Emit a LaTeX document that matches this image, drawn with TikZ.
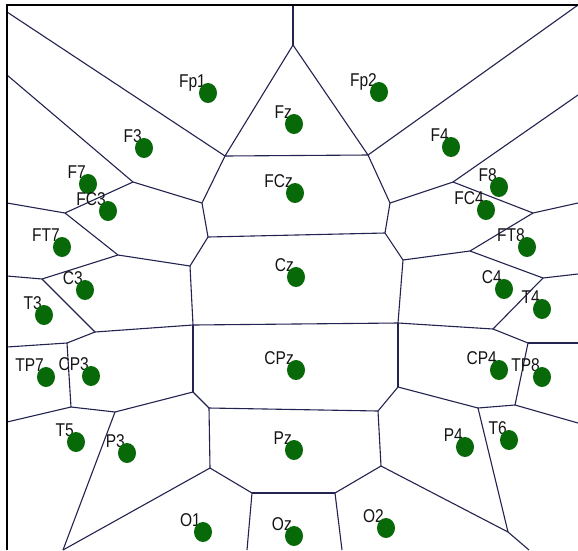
\documentclass[tikz,border=0pt]{standalone}
\usepackage{fontspec}
\setmainfont{Liberation Sans}
\usetikzlibrary{shapes.geometric}
\definecolor{edgecol}{RGB}{35,35,80}
\definecolor{dotcol}{RGB}{8,105,8}
\definecolor{txtcol}{RGB}{20,20,20}
\newcommand{\electrode}[4]{%
  \node[lbl] (#1l) at (#2-2,#3-6) {\scalebox{0.84}[1]{#4}};%
  \node[elec] (#1) at (#2,#3) {};}
\begin{document}
\begin{tikzpicture}[x=1pt,y=-1pt,
  edge/.style={draw=edgecol,line width=1.1pt},
  frame/.style={draw=black,line width=2.2pt},
  lbl/.style={anchor=base east,inner sep=0pt,text=txtcol,font=\fontsize{18.5}{18.5}\selectfont},
  elec/.style={ellipse,fill=dotcol,draw=none,inner sep=0pt,minimum width=18pt,minimum height=20pt}]
\useasboundingbox (0,0) rectangle (578,550);
\fill[white] (0,0) rectangle (578,550);
% Voronoi vertices
\coordinate (vA) at (225,156);
\coordinate (vApex) at (293,45);
\coordinate (vC) at (368,155);
\coordinate (vD) at (453,182);
\coordinate (vE) at (390,203);
\coordinate (vF) at (533,213);
\coordinate (vG) at (385,233);
\coordinate (vH) at (403,260);
\coordinate (vI) at (470,251);
\coordinate (vJ) at (543,278);
\coordinate (vK) at (398,323);
\coordinate (vL) at (493,329);
\coordinate (vM) at (528,343);
\coordinate (vN) at (515,405);
\coordinate (vO) at (398,387);
\coordinate (vP) at (478,408);
\coordinate (vQ) at (378,411);
\coordinate (vR) at (508,532);
\coordinate (vS) at (381,466);
\coordinate (vT) at (335,493);
\coordinate (vU) at (210,468);
\coordinate (vV) at (252,493);
\coordinate (vW) at (193,392);
\coordinate (vX) at (209,408);
\coordinate (vY) at (115,412);
\coordinate (vZ) at (71,407);
\coordinate (vCC) at (67,343);
\coordinate (vAA) at (95,332);
\coordinate (vBB) at (193,325);
\coordinate (vGG) at (190,266);
\coordinate (vFF) at (208,237);
\coordinate (vEE) at (202,203);
\coordinate (vHH) at (118,255);
\coordinate (vII) at (42,279);
\coordinate (vDD) at (65,213);
\coordinate (vB) at (133,182);
% border ends
\coordinate (bTL) at (7,12);
\coordinate (bL1) at (7,75);
\coordinate (bL2) at (7,203);
\coordinate (bL3) at (7,276);
\coordinate (bL4) at (7,347);
\coordinate (bL5) at (7,422);
\coordinate (bB1) at (63,550);
\coordinate (bB2) at (247,550);
\coordinate (bB3) at (342,550);
\coordinate (bB4) at (529,550);
\coordinate (bR1) at (578,423);
\coordinate (bR2) at (578,343);
\coordinate (bR3) at (578,274);
\coordinate (bR4) at (578,203);
\coordinate (bR5) at (578,95);
\coordinate (bTR) at (578,5);
\coordinate (bT) at (293,5);
\coordinate (fBL) at (7,550);
\coordinate (fTL) at (7,5);
% edges
\draw[edge] (bTL) -- (vA);
\draw[edge] (bL1) -- (vB);
\draw[edge] (bL2) -- (vDD);
\draw[edge] (bL3) -- (vII);
\draw[edge] (bL4) -- (vCC);
\draw[edge] (bL5) -- (vZ);
\draw[edge] (bB1) -- (vY);
\draw[edge] (bB1) -- (vU);
\draw[edge] (bB2) -- (vV);
\draw[edge] (bB3) -- (vT);
\draw[edge] (bB4) -- (vR);
\draw[edge] (bR1) -- (vN);
\draw[edge] (bR2) -- (vM);
\draw[edge] (bR3) -- (vJ);
\draw[edge] (bR4) -- (vF);
\draw[edge] (bR5) -- (vD);
\draw[edge] (bTR) -- (vC);
\draw[edge] (bT) -- (vApex);
\draw[edge] (vA) -- (vApex) -- (vC) -- (vA);
\draw[edge] (vA) -- (vEE);
\draw[edge] (vC) -- (vE);
\draw[edge] (vE) -- (vD);
\draw[edge] (vE) -- (vG);
\draw[edge] (vD) -- (vF);
\draw[edge] (vF) -- (vI);
\draw[edge] (vI) -- (vH);
\draw[edge] (vI) -- (vJ);
\draw[edge] (vJ) -- (vL);
\draw[edge] (vL) -- (vK);
\draw[edge] (vL) -- (vM);
\draw[edge] (vM) -- (vN);
\draw[edge] (vN) -- (vP);
\draw[edge] (vP) -- (vO);
\draw[edge] (vP) -- (vR);
\draw[edge] (vO) -- (vK);
\draw[edge] (vO) -- (vQ);
\draw[edge] (vQ) -- (vX);
\draw[edge] (vQ) -- (vS);
\draw[edge] (vS) -- (vT);
\draw[edge] (vS) -- (vR);
\draw[edge] (vT) -- (vV);
\draw[edge] (vV) -- (vU);
\draw[edge] (vU) -- (vX);
\draw[edge] (vX) -- (vW);
\draw[edge] (vW) -- (vY);
\draw[edge] (vW) -- (vBB);
\draw[edge] (vY) -- (vZ);
\draw[edge] (vZ) -- (vCC);
\draw[edge] (vCC) -- (vAA);
\draw[edge] (vAA) -- (vBB);
\draw[edge] (vAA) -- (vII);
\draw[edge] (vII) -- (vHH);
\draw[edge] (vHH) -- (vDD);
\draw[edge] (vHH) -- (vGG);
\draw[edge] (vGG) -- (vFF);
\draw[edge] (vGG) -- (vBB);
\draw[edge] (vFF) -- (vEE);
\draw[edge] (vFF) -- (vG);
\draw[edge] (vG) -- (vH);
\draw[edge] (vH) -- (vK);
\draw[edge] (vK) -- (vBB);
\draw[edge] (vEE) -- (vB);
\draw[edge] (vB) -- (vDD);
% frame
\draw[frame] (fBL) -- (fTL) -- (bTR);
% electrodes
\electrode{Fp1}{208}{93}{Fp1}
\electrode{Fp2}{379}{92}{Fp2}
\electrode{Fz}{294}{124}{Fz}
\electrode{F3}{144}{148}{F3}
\electrode{F4}{451}{147}{F4}
\electrode{F7}{88}{184}{F7}
\electrode{FC3}{108}{211}{FC3}
\electrode{FT7}{62}{247}{FT7}
\electrode{FCz}{295}{193}{FCz}
\electrode{F8}{499}{187}{F8}
\electrode{FC4}{486}{210}{FC4}
\electrode{FT8}{527}{247}{FT8}
\electrode{Cz}{296}{277}{Cz}
\electrode{C3}{85}{290}{C3}
\electrode{T3}{44}{315}{T3}
\electrode{C4}{504}{289}{C4}
\electrode{T4}{542}{309}{T4}
\electrode{CPz}{296}{370}{CPz}
\electrode{TP7}{46}{377}{TP7}
\electrode{CP3}{91}{376}{CP3}
\electrode{CP4}{499}{370}{CP4}
\electrode{TP8}{542}{377}{TP8}
\electrode{T5}{76}{442}{T5}
\electrode{P3}{127}{453}{P3}
\electrode{Pz}{294}{450}{Pz}
\electrode{P4}{465}{447}{P4}
\electrode{T6}{509}{440}{T6}
\electrode{O1}{203}{532}{O1}
\electrode{Oz}{294}{536}{Oz}
\electrode{O2}{386}{528}{O2}
\end{tikzpicture}
\end{document}
